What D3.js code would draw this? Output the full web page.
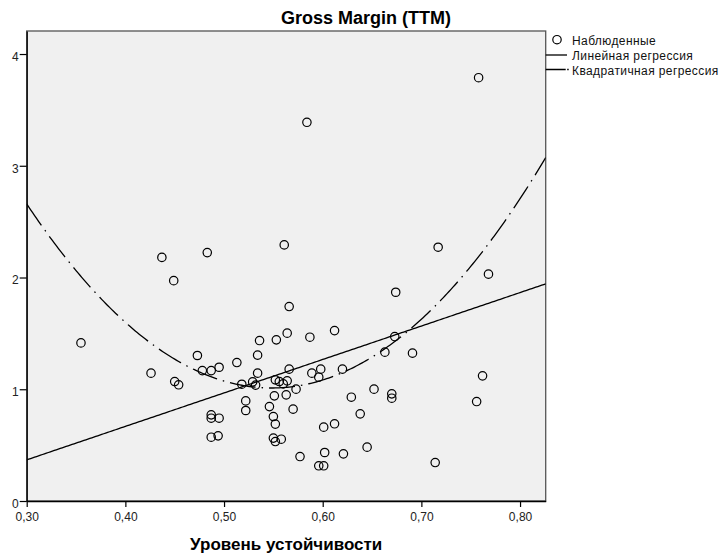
<!DOCTYPE html>
<html>
<head>
<meta charset="utf-8">
<script src="https://cdn.jsdelivr.net/npm/d3@7"></script>
<style>
  body { margin: 0; background: #fff; }
  svg { font-family: "Liberation Sans", Arial, sans-serif; }
</style>
</head>
<body>
<svg id="chart" width="721" height="556"></svg>
<script>
// observed points (Уровень устойчивости, Gross Margin)
const obsX = [0.355, 0.426, 0.437, 0.449, 0.483, 0.473, 0.450, 0.454, 0.478, 0.487,
    0.495, 0.513, 0.487, 0.487, 0.495, 0.487, 0.494, 0.518, 0.529, 0.532,
    0.536, 0.534, 0.534, 0.522, 0.522, 0.553, 0.564, 0.587, 0.612, 0.566,
    0.589, 0.598, 0.596, 0.620, 0.552, 0.556, 0.560, 0.564, 0.573, 0.551,
    0.563, 0.629, 0.546, 0.550, 0.552, 0.570, 0.550, 0.552, 0.558, 0.577,
    0.596, 0.601, 0.602, 0.601, 0.612, 0.621, 0.638, 0.652, 0.670, 0.670,
    0.645, 0.714, 0.756, 0.762, 0.561, 0.717, 0.674, 0.566, 0.673, 0.663,
    0.691, 0.768, 0.584, 0.758];
const obsY = [1.415, 1.144, 2.180, 1.972, 2.223, 1.302, 1.069, 1.040, 1.167, 1.167,
    1.197, 1.239, 0.771, 0.741, 0.741, 0.571, 0.583, 1.045, 1.066, 1.037,
    1.436, 1.305, 1.144, 0.896, 0.810, 1.442, 1.502, 1.466, 1.525, 1.180,
    1.144, 1.180, 1.108, 1.180, 1.084, 1.069, 1.048, 1.075, 1.001, 0.941,
    0.950, 0.929, 0.845, 0.756, 0.688, 0.822, 0.563, 0.532, 0.553, 0.398,
    0.315, 0.315, 0.434, 0.661, 0.691, 0.422, 0.780, 1.001, 0.959, 0.920,
    0.482, 0.344, 0.890, 1.120, 2.292, 2.271, 1.868, 1.740, 1.471, 1.332,
    1.323, 2.030, 3.389, 3.788];

// fitted models: y = b0 + b1*x (+ b2*x^2)
const linCoef = [-0.530, 2.994];
const quadCoef = [9.046, -29.31, 26.73];

const xTicks = [0.30, 0.40, 0.50, 0.60, 0.70, 0.80];
const yTicks = [0, 1, 2, 3, 4];
const legendLabels = ["Наблюденные", "Линейная регрессия", "Квадратичная регрессия"];

const svg = d3.select("#chart");
const pLeft = 26.7, pRight = 545.7, pTop = 31, pBottom = 501;

const x = d3.scaleLinear().domain([0.30, 0.826]).range([pLeft, pRight]);
const y = d3.scaleLinear().domain([0, 4.206]).range([pBottom, pTop]);

// plot frame
svg.append("rect")
    .attr("x", pLeft).attr("y", pTop)
    .attr("width", pRight - pLeft).attr("height", pBottom - pTop)
    .attr("fill", "#f0f0f0")
    .attr("stroke", "#555").attr("stroke-width", 1.3);

svg.append("clipPath").attr("id", "clip")
    .append("rect")
    .attr("x", pLeft).attr("y", pTop)
    .attr("width", pRight - pLeft).attr("height", pBottom - pTop);

const fmt = d3.format(".2f");

const xAxis = svg.append("g")
    .attr("transform", `translate(0,${pBottom})`)
    .call(d3.axisBottom(x).tickValues(xTicks).tickSize(6).tickSizeOuter(0).tickPadding(5)
        .tickFormat(d => fmt(d).replace(".", ",")));

const yAxis = svg.append("g")
    .attr("transform", `translate(${pLeft},0)`)
    .call(d3.axisLeft(y).tickValues(yTicks).tickSize(7).tickSizeOuter(0).tickPadding(1)
        .tickFormat(d3.format("d")));

[xAxis, yAxis].forEach(function (a) {
    a.select(".domain").attr("stroke", "#000").attr("stroke-width", 1.3);
    a.selectAll(".tick line").attr("stroke", "#000").attr("stroke-width", 1.2);
    a.selectAll(".tick text")
        .attr("fill", "#222")
        .style("font-size", "12px")
        .style("font-family", "'Liberation Sans', Arial, sans-serif");
});
yAxis.selectAll(".tick text").attr("dy", "0.52em");

// regression curves
const fitG = svg.append("g").attr("clip-path", "url(#clip)");
const xGrid = d3.range(0.30, 0.8261, 0.002);

const line = d3.line()
    .x(d => x(d[0]))
    .y(d => y(d[1]));

fitG.append("path")
    .datum(xGrid.map(v => [v, linCoef[0] + linCoef[1] * v]))
    .attr("d", line)
    .attr("fill", "none")
    .attr("stroke", "#000")
    .attr("stroke-width", 1.3);

fitG.append("path")
    .datum(xGrid.map(v => [v, quadCoef[0] + quadCoef[1] * v + quadCoef[2] * v * v]))
    .attr("d", line)
    .attr("fill", "none")
    .attr("stroke", "#000")
    .attr("stroke-width", 1.3)
    .attr("stroke-dasharray", "26,6,1.5,6");

// observed points
svg.append("g")
    .selectAll("circle")
    .data(obsX.map((v, i) => [v, obsY[i]]))
    .enter().append("circle")
    .attr("cx", d => x(d[0]))
    .attr("cy", d => y(d[1]))
    .attr("r", 4.2)
    .attr("fill", "none")
    .attr("stroke", "#000")
    .attr("stroke-width", 1.2);

// titles
svg.append("text")
    .attr("x", 366).attr("y", 23.5)
    .attr("text-anchor", "middle")
    .style("font-size", "18px").style("font-weight", "bold")
    .text("Gross Margin (TTM)");

svg.append("text")
    .attr("x", (pLeft + pRight) / 2).attr("y", 550)
    .attr("text-anchor", "middle")
    .style("font-size", "17px").style("font-weight", "bold")
    .text("Уровень устойчивости");

// legend
const leg = svg.append("g");
leg.append("circle")
    .attr("cx", 557).attr("cy", 39.7).attr("r", 4.2)
    .attr("fill", "none").attr("stroke", "#000").attr("stroke-width", 1.2);
leg.append("line")
    .attr("x1", pRight).attr("x2", 567).attr("y1", 55).attr("y2", 55)
    .attr("stroke", "#000").attr("stroke-width", 1.3);
leg.append("line")
    .attr("x1", pRight).attr("x2", 569).attr("y1", 69.5).attr("y2", 69.5)
    .attr("stroke", "#000").attr("stroke-width", 1.3)
    .attr("stroke-dasharray", "20,1.5,1.5,4");

leg.selectAll("text.lab")
    .data(legendLabels)
    .enter().append("text")
    .attr("class", "lab")
    .attr("x", 572)
    .attr("y", (d, i) => 44.5 + i * 15)
    .attr("fill", "#111")
    .style("font-size", "12px")
    .style("letter-spacing", "0.4px")
    .text(d => d);
</script>
</body>
</html>
